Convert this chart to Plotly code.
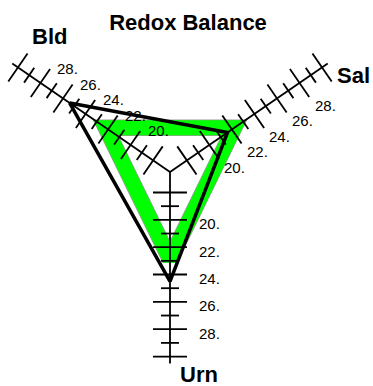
import numpy as np
import plotly.graph_objects as go

# three spokes of the chart
axis_names = ["Bld", "Sal", "Urn"]
axis_angles = [145.5, 34.5, 270.0]  # degrees, counter-clockwise from +x
r_min, r_max = 16.5, 30.5

tick_values = list(range(18, 31))
label_values = [20, 22, 24, 26, 28]
label_texts = ["20.", "22.", "24.", "26.", "28."]

# series (one value per spoke, same order as axis_names)
green_values = [22.2, 22.2, 22.9]
black_values = [25.4, 21.6, 24.5]

# layout helpers
W, H = 373, 386
PX = 13.67           # pixels per unit
CX, CY = 170, 172    # centre of the spokes, in pixels
FONT = "Liberation Sans, Arial, sans-serif"

# per-spoke pixel offsets for tick labels and spoke names
label_shift = {"Bld": (15, 14), "Sal": (13, -22.5), "Urn": (27, -4)}
name_shift = {"Bld": (37, 27), "Sal": (26, -12), "Urn": (29, -11)}


def to_xy(value, angle):
    r = value - r_min
    a = np.deg2rad(angle)
    return r * np.cos(a), r * np.sin(a)


def closed(values):
    # wrap around one extra vertex so every corner gets a proper join
    pts = [to_xy(v, a) for v, a in zip(values, axis_angles)]
    pts = pts + pts[:2]
    return [p[0] for p in pts], [p[1] for p in pts]


fig = go.Figure()

# green range band (gray rim underneath)
gx, gy = closed(green_values)
fig.add_trace(go.Scatter(x=gx, y=gy, mode="lines", line=dict(color="#9a9a9a", width=16.5, simplify=False),
                         hoverinfo="skip"))
fig.add_trace(go.Scatter(x=gx, y=gy, mode="lines", line=dict(color="#00ff00", width=15, simplify=False),
                         hoverinfo="skip"))

# spokes and cross ticks
sx, sy = [], []
for name, ang in zip(axis_names, axis_angles):
    x0, y0 = to_xy(r_min, ang)
    x1, y1 = to_xy(r_max, ang)
    sx += [x0, x1, None]
    sy += [y0, y1, None]
    perp = np.deg2rad(ang + 90)
    for v in tick_values:
        half = (17 if v % 2 == 0 else 9) / PX
        tx, ty = to_xy(v, ang)
        sx += [tx - half * np.cos(perp), tx + half * np.cos(perp), None]
        sy += [ty - half * np.sin(perp), ty + half * np.sin(perp), None]
fig.add_trace(go.Scatter(x=sx, y=sy, mode="lines", line=dict(color="black", width=1.8), hoverinfo="skip"))

# black series
bx, by = closed(black_values)
fig.add_trace(go.Scatter(x=bx, y=by, mode="lines", line=dict(color="black", width=3.5, simplify=False),
                         hoverinfo="skip"))

annotations = []
for name, ang in zip(axis_names, axis_angles):
    dx, dy = label_shift[name]
    for v, t in zip(label_values, label_texts):
        x, y = to_xy(v, ang)
        annotations.append(dict(x=x, y=y, text=t, showarrow=False, xanchor="left", yanchor="middle",
                                xshift=dx, yshift=dy, font=dict(size=15, color="black", family=FONT)))
    ex, ey = to_xy(r_max, ang)
    nx, ny = name_shift[name]
    annotations.append(dict(x=ex, y=ey, text="<b>%s</b>" % name, showarrow=False, xanchor="center",
                            yanchor="middle", xshift=nx, yshift=ny,
                            font=dict(size=22, color="black", family=FONT)))

fig.update_layout(
    width=W, height=H,
    margin=dict(l=0, r=0, t=0, b=0),
    showlegend=False,
    paper_bgcolor="white",
    plot_bgcolor="white",
    font=dict(family=FONT, color="black"),
    title=dict(text="<b>Redox Balance</b>", x=188 / W, xanchor="center", xref="paper",
               y=1 - 22 / H, yanchor="middle", yref="container",
               font=dict(size=22, family=FONT, color="black")),
    xaxis=dict(visible=False, range=[-CX / PX, (W - CX) / PX], fixedrange=True),
    yaxis=dict(visible=False, range=[-(H - CY) / PX, CY / PX], fixedrange=True),
    annotations=annotations,
)

# drop the default page margin so the figure sits at the top-left corner
fig.write_html("out.html", config={"displayModeBar": False},
               post_script="document.body.style.margin='0';document.body.style.overflow='hidden';")
